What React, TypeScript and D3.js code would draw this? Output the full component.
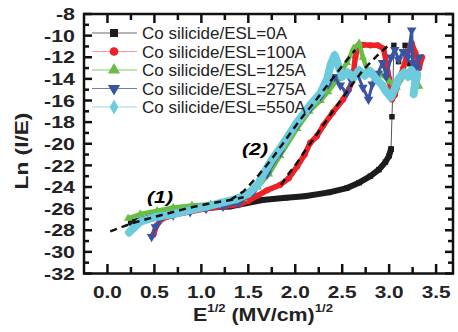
import * as d3 from "d3"

type Pt = [number, number]

const seriesNames = [
  "Co silicide/ESL=0A",
  "Co silicide/ESL=100A",
  "Co silicide/ESL=125A",
  "Co silicide/ESL=275A",
  "Co silicide/ESL=550A",
]
const colors = ["#1c1c1c", "#ec2227", "#69bd45", "#3a54a4", "#6ccbdc"]
const legendLine = ["#6a6a6a", "#f49a9a", "#86c96a", "#6a7fbe", "#9adbe6"]

const yTicks = [-8, -10, -12, -14, -16, -18, -20, -22, -24, -26, -28, -30, -32]
const xTicks = [0, 0.5, 1, 1.5, 2, 2.5, 3, 3.5]

// E^1/2, Ln(I/E)
const esl0: Pt[] = [
  [0.25, -27.3], [0.5, -26.7], [0.8, -26.2], [1.1, -25.9], [1.3, -25.8], [1.65, -25.2],
  [1.9, -25.0], [2.1, -24.85], [2.36, -24.5], [2.55, -24.1], [2.68, -23.6], [2.8, -23.0],
  [2.89, -22.4], [2.96, -21.7], [3.0, -21.1], [3.02, -20.5],
]
const esl0Tail: Pt[] = [
  [3.02, -20.5], [3.03, -17.5], [3.04, -14.8], [3.05, -10.9], [3.1, -12.4],
  [3.17, -10.9], [3.18, -11.7], [3.22, -12.6],
]
const esl100: Pt[] = [
  [0.49, -28.4], [0.52, -27.6], [0.58, -26.95], [0.7, -26.6], [0.88, -26.3], [1.05, -26.0],
  [1.23, -25.8], [1.41, -25.6], [1.5, -25.3], [1.6, -24.8], [1.7, -24.3], [1.84, -23.8],
  [1.93, -23.2], [2.02, -22.1], [2.1, -21.0], [2.16, -19.9], [2.23, -19.3], [2.3, -18.3],
  [2.4, -17.1], [2.51, -15.9], [2.57, -15.0], [2.61, -14.1], [2.64, -12.0], [2.67, -11.05],
  [2.72, -10.85], [2.8, -10.9], [2.88, -10.9], [2.94, -11.2], [2.97, -12.5], [3.0, -14.0],
  [3.03, -15.9], [3.06, -15.5], [3.1, -14.2], [3.15, -13.0], [3.2, -11.5], [3.24, -10.7],
  [3.28, -11.6], [3.32, -13.0], [3.35, -12.0],
]
const esl125: Pt[] = [
  [0.22, -26.9], [0.35, -26.5], [0.53, -26.2], [0.7, -25.9], [0.9, -25.7], [1.1, -25.6],
  [1.3, -25.4], [1.45, -25.1], [1.6, -24.0], [1.72, -22.8], [1.84, -21.1], [2.02, -18.6],
  [2.15, -17.0], [2.27, -16.0], [2.35, -15.2], [2.45, -14.0], [2.55, -12.5], [2.62, -11.2],
  [2.68, -10.7], [2.72, -12.0], [2.78, -13.5], [2.85, -14.0], [2.92, -13.6], [3.0, -14.2],
  [3.08, -14.8], [3.15, -13.8], [3.22, -13.2], [3.28, -14.0], [3.32, -14.7],
]
const esl275: Pt[] = [
  [0.47, -28.6], [0.51, -27.7], [0.56, -27.0], [0.7, -26.6], [0.88, -26.3], [1.05, -26.0],
  [1.23, -25.8], [1.4, -25.5], [1.55, -24.5], [1.7, -22.8], [1.84, -20.8], [2.02, -18.3],
  [2.16, -16.7], [2.27, -15.6], [2.35, -14.5], [2.42, -13.8], [2.48, -14.6], [2.55, -15.3],
  [2.6, -14.2], [2.66, -13.5], [2.72, -14.8], [2.78, -15.9], [2.82, -14.5], [2.88, -13.5],
  [2.93, -12.5], [2.97, -13.8], [3.02, -12.0], [3.06, -11.3], [3.1, -12.2], [3.15, -11.5],
  [3.2, -12.0], [3.24, -9.5], [3.25, -12.5], [3.3, -13.0], [3.32, -12.0],
]
const esl550: Pt[] = [
  [0.23, -28.2], [0.35, -27.2], [0.5, -26.8], [0.7, -26.5], [0.9, -26.1], [1.06, -25.8],
  [1.2, -25.5], [1.38, -25.1], [1.5, -24.6], [1.6, -23.8], [1.66, -22.8], [1.75, -21.5],
  [1.84, -20.4], [1.93, -19.2], [2.02, -18.0], [2.1, -17.1], [2.16, -16.4], [2.27, -15.3],
  [2.34, -14.0], [2.38, -12.6], [2.42, -11.8], [2.46, -12.8], [2.5, -13.8], [2.56, -13.4],
  [2.62, -13.9], [2.68, -13.2], [2.74, -13.7], [2.8, -13.3], [2.86, -14.0], [2.92, -14.5],
  [2.97, -15.2], [3.02, -15.7], [3.06, -14.9], [3.1, -14.0], [3.16, -13.4], [3.2, -13.8],
  [3.24, -13.2], [3.28, -14.2], [3.26, -15.4], [3.3, -13.6],
]

// dashed fits
const fit1: Pt[] = [
  [0.03, -28.1], [0.28, -27.3], [0.53, -26.7], [0.88, -25.9], [1.1, -25.5], [1.31, -25.2], [1.45, -24.95],
]
const fit2a: Pt[] = [
  [1.31, -25.2], [1.45, -24.4], [1.6, -23.0], [1.75, -21.4], [1.9, -19.6], [2.05, -17.8],
  [2.2, -16.2], [2.35, -14.5], [2.5, -12.8], [2.64, -11.3],
]
const fit2b: Pt[] = [
  [1.85, -23.8], [1.91, -23.0], [2.0, -22.0], [2.1, -20.7], [2.24, -19.0], [2.4, -17.0],
  [2.5, -15.8], [2.59, -14.7], [2.72, -13.2], [2.9, -11.6], [2.98, -11.0],
]

const bands = [esl0, esl100, esl125, esl275, esl550]
const bandWidth = [6, 5.5, 4.5, 3, 8]
const markSize = [30, 30, 30, 40, 30]

export default function App() {
  const x = d3.scaleLinear().domain([-0.25, 3.68]).range([84, 453])
  const y = d3.scaleLinear().domain([-32, -8]).range([273.5, 14])
  const line = d3.line<Pt>().x((d) => x(d[0])).y((d) => y(d[1]))

  const symbols = [d3.symbolSquare, d3.symbolCircle, d3.symbolTriangle, d3.symbolTriangle, d3.symbolDiamond]
  const marker = (i: number, size: number) => d3.symbol(symbols[i], size)() as string
  const rot = (i: number) => (i === 3 ? " rotate(180)" : "")

  const yMinor = d3.range(-31, -8, 1).filter((v) => v % 2 !== 0)
  const xMinor = d3.range(0.25, 3.6, 0.5)

  const font = "'Liberation Sans', Arial, sans-serif"

  return (
    <svg width={458} height={332} style={{ position: "absolute", left: 0, top: 0 }} fontFamily={font}>
      <style>{"body{margin:0}"}</style>

      {bands.map((data, i) => (
        <g key={i}>
          <path d={line(data) as string} fill="none" stroke={colors[i]} strokeWidth={bandWidth[i]}
            strokeLinejoin="round" strokeLinecap="round" />
          {i === 0 && (
            <path d={line(esl0Tail) as string} fill="none" stroke="#555" strokeWidth={1} />
          )}
          {(i === 0 ? data.concat(esl0Tail) : data).map((d, j) => (
            <path key={j} d={marker(i, markSize[i])} fill={colors[i]}
              transform={`translate(${x(d[0])},${y(d[1])})${rot(i)}`} />
          ))}
        </g>
      ))}

      {[fit1, fit2a, fit2b].map((f, i) => (
        <path key={i} d={line(f) as string} fill="none" stroke="#111" strokeWidth={2.5} strokeDasharray="7,5" />
      ))}

      <text transform="translate(160,203) scale(1.25,1)" fontSize={17} fontWeight="bold" fontStyle="italic"
        textAnchor="middle">(1)</text>
      <text transform="translate(255,155) scale(1.25,1)" fontSize={17} fontWeight="bold" fontStyle="italic"
        textAnchor="middle">(2)</text>

      {/* frame */}
      <rect x={84} y={14} width={369} height={259.5} fill="none" stroke="#111" strokeWidth={2.5} />

      {yTicks.map((v) => (
        <g key={v}>
          <line x1={84} x2={92} y1={y(v)} y2={y(v)} stroke="#111" strokeWidth={2.5} />
          <line x1={453} x2={445} y1={y(v)} y2={y(v)} stroke="#111" strokeWidth={2.5} />
          <text transform={`translate(75,${y(v)}) scale(1.26,1)`} dy="0.36em" textAnchor="end"
            fontSize={17} fontWeight="bold" fill="#222">{v}</text>
        </g>
      ))}
      {yMinor.map((v) => (
        <g key={v}>
          <line x1={84} x2={89} y1={y(v)} y2={y(v)} stroke="#111" strokeWidth={2.5} />
          <line x1={453} x2={448} y1={y(v)} y2={y(v)} stroke="#111" strokeWidth={2.5} />
        </g>
      ))}
      {xTicks.map((v) => (
        <g key={v}>
          <line x1={x(v)} x2={x(v)} y1={273.5} y2={264} stroke="#111" strokeWidth={2.5} />
          <line x1={x(v)} x2={x(v)} y1={14} y2={23} stroke="#111" strokeWidth={2.5} />
          <text transform={`translate(${x(v)},298) scale(1.3,1)`} textAnchor="middle"
            fontSize={16} fontWeight="bold" fill="#222">{v.toFixed(1)}</text>
        </g>
      ))}
      {xMinor.map((v) => (
        <g key={v}>
          <line x1={x(v)} x2={x(v)} y1={273.5} y2={267} stroke="#111" strokeWidth={2.5} />
          <line x1={x(v)} x2={x(v)} y1={14} y2={20} stroke="#111" strokeWidth={2.5} />
        </g>
      ))}

      <text transform="translate(28,151) rotate(-90) scale(1.26,1)" textAnchor="middle" fontSize={18}
        fontWeight="bold" fill="#222">Ln (I/E)</text>
      <text transform="translate(263,321) scale(1.19,1)" textAnchor="middle" fontSize={18}
        fontWeight="bold" fill="#222">
        E<tspan fontSize={11} dy={-9}>1/2</tspan>
        <tspan dy={9}> (MV/cm)</tspan>
        <tspan fontSize={11} dy={-9}>1/2</tspan>
      </text>

      {/* legend */}
      {seriesNames.map((name, i) => {
        const ly = 33 + i * 18.5
        return (
          <g key={name}>
            <line x1={92} x2={137} y1={ly} y2={ly} stroke={legendLine[i]} strokeWidth={1.2} />
            <path d={marker(i, i === 1 ? 60 : 64)} fill={colors[i]}
              transform={`translate(114,${ly})${rot(i)}`} />
            <text x={142} y={ly} dy="0.36em" fontSize={17} fill="#222">{name}</text>
          </g>
        )
      })}
    </svg>
  )
}
